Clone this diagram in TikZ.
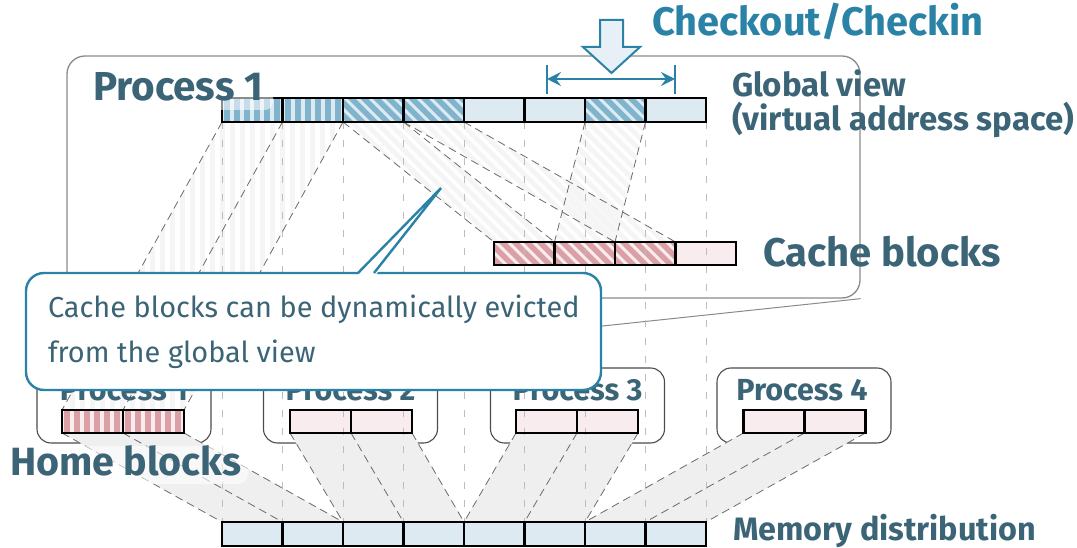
\documentclass[tikz,border=0pt]{standalone}
\usepackage{fontspec}
\setmainfont{Fira Sans}
\usetikzlibrary{arrows.meta}

\definecolor{headC}{HTML}{3B6577}
\definecolor{accC}{HTML}{2A83A6}
\definecolor{blueFill}{HTML}{DDEAF1}
\definecolor{blueStripe}{HTML}{7FB4CC}
\definecolor{redFill}{HTML}{F8ECEE}
\definecolor{redStripe}{HTML}{DBA0A5}
\definecolor{frameC}{HTML}{8A8A8A}
\definecolor{mapC}{HTML}{6A6A6A}
\definecolor{guideC}{HTML}{BDBDBD}
\definecolor{homeShade}{HTML}{EFEFEF}
\definecolor{faintC}{HTML}{F5F5F5}
\definecolor{arrowFill}{HTML}{E6F0F6}

\newcommand\fsz[1]{\fontsize{#1pt}{#1pt}\selectfont}

\begin{document}
\begin{tikzpicture}[x=1pt,y=-1pt,
  cellbase/.style={draw=none, minimum width=60.5pt,
    minimum height=24pt, inner sep=0pt, outer sep=0pt},
  hcell/.style={cellbase, minimum width=61pt, minimum height=23pt},
  bplain/.style={fill=blueFill},
  rplain/.style={fill=redFill},
  vstripes/.style 2 args={fill=#1, path picture={
    \foreach \k in {0,...,7}{\fill[#2] ([xshift=\k*10pt+2pt]path picture bounding box.south west) rectangle ++(6pt,30pt);}}},
  dstripes/.style 2 args={fill=#1, path picture={
    \foreach \k in {-5,...,6}{\draw[#2, line width=5.5pt] ([xshift=\k*12.5pt, yshift=8pt]path picture bounding box.north west) -- ++(50pt,-50pt);}}},
  cellframe/.style={draw=black, line width=2.3pt},
  framebox/.style={draw=frameC, line width=1.3pt, rounded corners=18pt, inner sep=0pt},
  pbox/.style={draw=black!70, line width=1.1pt, rounded corners=14pt,
    minimum width=174pt, minimum height=75pt, inner sep=0pt},
  guide/.style={draw=guideC, line width=0.9pt, dash pattern=on 7pt off 11pt},
  mapline/.style={draw=mapC, line width=0.8pt, dash pattern=on 8pt off 5pt},
  zoomline/.style={draw=frameC, line width=1pt},
  lbl/.style={inner sep=0pt, outer sep=0pt, text=headC},
]
\useasboundingbox (0,0) rectangle (1077,548);

% magnified view of process 1
\node[framebox, minimum width=793pt, minimum height=242pt] (frame) at (463.5,177) {};

% process boxes
\node[pbox] (pb1) at (124,405.5) {};
\node[pbox] (pb2) at (350.5,405.5) {};
\node[pbox] (pb3) at (577.5,405.5) {};
\node[pbox] (pb4) at (804,405.5) {};

\draw[zoomline] (frame.south east) -- (pb1.north east);
\draw[zoomline] (frame.south west) -- (pb1.north west);

% faint hatching of mapped regions: global -> home blocks
\begin{scope}
  \clip (222,122) -- (343,122) -- (184,410) -- (62,410) -- cycle;
  \foreach \x in {40,50,...,360} \fill[faintC] (\x,120) rectangle ++(5,295);
\end{scope}
% global -> cache blocks
\begin{scope}
  \clip (343,122) -- (404,122) -- (555,242) -- (494,242) -- cycle;
  \foreach \x in {150,162,...,700} \draw[faintC, line width=5pt] (\x,100) -- ++(160,160);
\end{scope}
\begin{scope}
  \clip (404,122) -- (464,122) -- (676,242) -- (615,242) -- cycle;
  \foreach \x in {150,162,...,700} \draw[faintC, line width=5pt] (\x,100) -- ++(160,160);
\end{scope}
\begin{scope}
  \clip (585,122) -- (646,122) -- (615,242) -- (555,242) -- cycle;
  \foreach \x in {350,362,...,700} \draw[faintC, line width=5pt] (\x,100) -- ++(160,160);
\end{scope}

% home blocks -> memory distribution shading
\fill[homeShade] (62,433) -- (184,433) -- (343,522) -- (222,522) -- cycle;
\fill[homeShade] (290,433) -- (412,433) -- (464,522) -- (343,522) -- cycle;
\fill[homeShade] (516,433) -- (638,433) -- (585,522) -- (464,522) -- cycle;
\fill[homeShade] (743.5,433) -- (865.5,433) -- (706,522) -- (585,522) -- cycle;

% global view cells
\node[cellbase, vstripes={blueFill}{blueStripe}] (g0) at (252.25,110) {};
\node[cellbase, vstripes={blueFill}{blueStripe}] (g1) at (312.75,110) {};
\node[cellbase, dstripes={blueFill}{blueStripe}] (g2) at (373.25,110) {};
\node[cellbase, dstripes={blueFill}{blueStripe}] (g3) at (433.75,110) {};
\node[cellbase, bplain] (g4) at (494.25,110) {};
\node[cellbase, bplain] (g5) at (554.75,110) {};
\node[cellbase, dstripes={blueFill}{blueStripe}] (g6) at (615.25,110) {};
\node[cellbase, bplain] (g7) at (675.75,110) {};

% cache blocks
\node[cellbase, minimum height=23pt, dstripes={redFill}{redStripe}] (c0) at (524.25,253.5) {};
\node[cellbase, minimum height=23pt, dstripes={redFill}{redStripe}] (c1) at (584.75,253.5) {};
\node[cellbase, minimum height=23pt, dstripes={redFill}{redStripe}] (c2) at (645.25,253.5) {};
\node[cellbase, minimum height=23pt, rplain] (c3) at (705.75,253.5) {};

% memory distribution
\node[cellbase, bplain] (m0) at (252.25,534) {};
\node[cellbase, bplain] (m1) at (312.75,534) {};
\node[cellbase, bplain] (m2) at (373.25,534) {};
\node[cellbase, bplain] (m3) at (433.75,534) {};
\node[cellbase, bplain] (m4) at (494.25,534) {};
\node[cellbase, bplain] (m5) at (554.75,534) {};
\node[cellbase, bplain] (m6) at (615.25,534) {};
\node[cellbase, bplain] (m7) at (675.75,534) {};

% home blocks of each process
\node[hcell, vstripes={redFill}{redStripe}] (h10) at (92.5,421.5) {};
\node[hcell, vstripes={redFill}{redStripe}] (h11) at (153.5,421.5) {};
\node[hcell, rplain] (h20) at (320.5,421.5) {};
\node[hcell, rplain] (h21) at (381.5,421.5) {};
\node[hcell, rplain] (h30) at (546.5,421.5) {};
\node[hcell, rplain] (h31) at (607.5,421.5) {};
\node[hcell, rplain] (h40) at (774,421.5) {};
\node[hcell, rplain] (h41) at (835,421.5) {};

% vertical guides from the global view down to memory
\foreach \i in {0,...,7} \draw[guide] (g\i.south west) -- (m\i.north west);
\draw[guide] (g7.south east) -- (m7.north east);

% mapping edges: global -> home
\draw[mapline] (g0.south west) -- (h10.north west);
\draw[mapline] (g0.south east) -- (h10.north east);
\draw[mapline] (g1.south east) -- (h11.north east);
% global -> cache
\draw[mapline] (g2.south west) -- (c0.north west);
\draw[mapline] (g2.south east) -- (c0.north east);
\draw[mapline] (g3.south west) -- (c2.north west);
\draw[mapline] (g3.south east) -- (c2.north east);
\draw[mapline] (g6.south west) -- (c1.north west);
\draw[mapline] (g6.south east) -- (c1.north east);
% home -> memory
\draw[mapline] (h10.south west) -- (m0.north west);
\draw[mapline] (h10.south east) -- (m0.north east);
\draw[mapline] (h11.south east) -- (m1.north east);
\draw[mapline] (h20.south west) -- (m2.north west);
\draw[mapline] (h20.south east) -- (m2.north east);
\draw[mapline] (h21.south east) -- (m3.north east);
\draw[mapline] (h30.south west) -- (m4.north west);
\draw[mapline] (h30.south east) -- (m4.north east);
\draw[mapline] (h31.south east) -- (m5.north east);
\draw[mapline] (h40.south west) -- (m6.north west);
\draw[mapline] (h40.south east) -- (m6.north east);
\draw[mapline] (h41.south east) -- (m7.north east);

% cell outlines on top
\foreach \n in {g0,g1,g2,g3,g4,g5,g6,g7,c0,c1,c2,c3,m0,m1,m2,m3,m4,m5,m6,m7,h10,h11,h20,h21,h30,h31,h40,h41}
  \draw[cellframe] (\n.north west) rectangle (\n.south east);

% labels
\fill[white, fill opacity=0.55, rounded corners=8pt] (84,60) rectangle (273,110);
\node[lbl, font=\fsz{40.4}\bfseries, anchor=base west] (lp1) at (93,101) {Process 1};
\node[lbl, font=\fsz{33}\bfseries, anchor=base west] (lgv) at (732,97) {Global view};
\node[lbl, font=\fsz{33}\bfseries, anchor=base west] (lva) at (732,131) {(virtual address space)};
\node[lbl, font=\fsz{40}\bfseries, anchor=base west] (lcb) at (763,267) {Cache blocks};
\node[lbl, font=\fsz{32.4}\bfseries, anchor=base west] (lmd) at (733,540) {Memory distribution};
\fill[white, fill opacity=0.6, rounded corners=10pt] (0,446) rectangle (248,484);
\node[lbl, font=\fsz{39.4}\bfseries, anchor=base west] (lhb) at (10,475) {Home blocks};
\node[lbl, font=\fsz{30.5}\bfseries, anchor=base] (lq1) at (124,400) {Process 1};
\node[lbl, font=\fsz{30.5}\bfseries, anchor=base] (lq2) at (350.5,400) {Process 2};
\node[lbl, font=\fsz{30.5}\bfseries, anchor=base] (lq3) at (577.5,400) {Process 3};
\node[lbl, font=\fsz{30.5}\bfseries, anchor=base] (lq4) at (802,400) {Process 4};

% checkout / checkin marker
\node[lbl, text=accC, font=\fsz{39.8}\bfseries, anchor=base west] (lco) at (652,36) {Checkout/Checkin};
\draw[accC, line width=2pt, fill=arrowFill, line join=miter]
  (600,20) -- (623,20) -- (623,47) -- (640,47) -- (611.5,73) -- (583,47) -- (600,47) -- cycle;
\coordinate (ra) at (547,79);
\coordinate (rb) at (675,79);
\draw[accC, line width=2pt] (547,65) -- (547,94);
\draw[accC, line width=2pt] (675,65) -- (675,94);
\draw[accC, line width=2pt, {Stealth[length=14pt,width=14pt,inset=5pt]}-{Stealth[length=14pt,width=14pt,inset=5pt]}] (ra) -- (rb);

% callout
\node[draw=accC, line width=2.4pt, fill=white, rounded corners=18pt,
  minimum width=575pt, minimum height=117pt, inner sep=0pt] (callout) at (313.5,331.5) {};
\coordinate (tip) at (441,188);
\fill[white] (357,276) -- (tip) -- (375,276) -- cycle;
\draw[accC, line width=2.4pt, line join=miter] (358,273) -- (tip) -- (374,273);
\node[lbl, font=\fsz{28.9}, anchor=base west] (ct1) at (48,318) {Cache blocks can be dynamically evicted};
\node[lbl, font=\fsz{28.9}, anchor=base west] (ct2) at (48,362) {from the global view};
\end{tikzpicture}
\end{document}
